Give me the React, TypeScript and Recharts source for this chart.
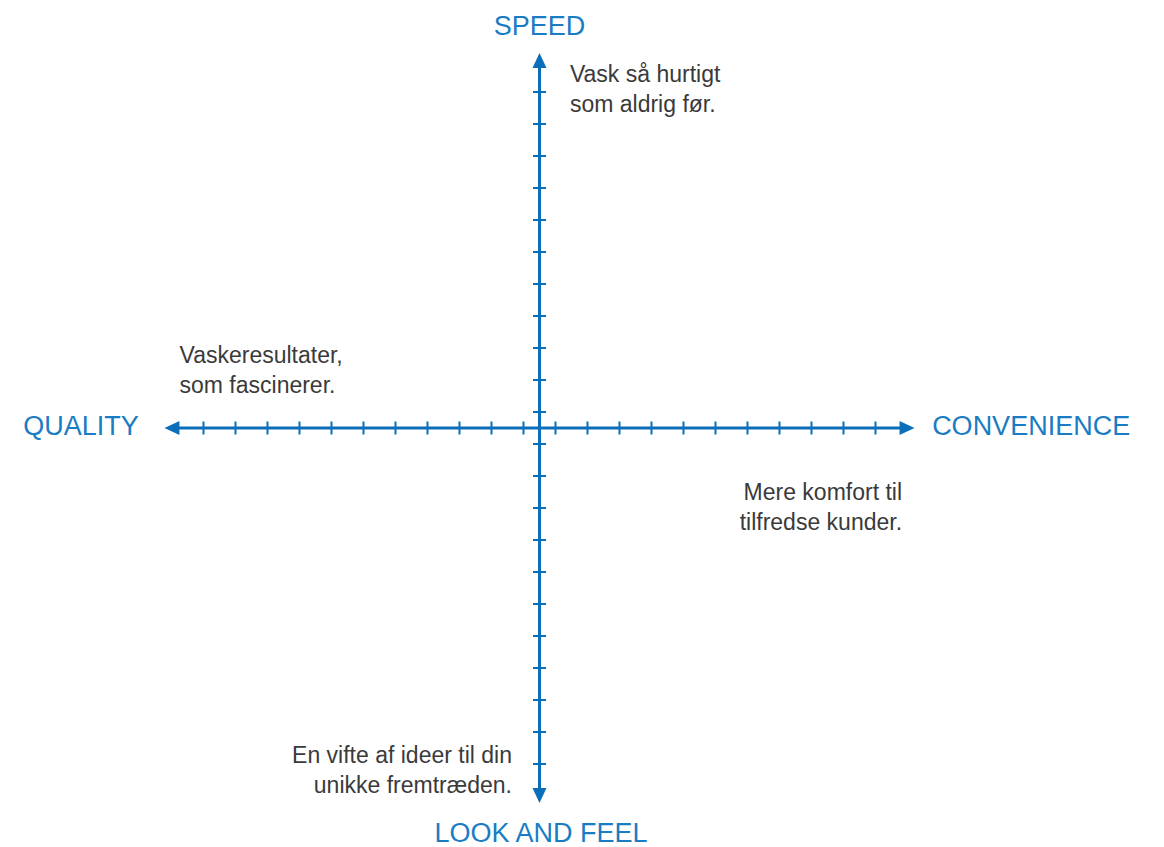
import React from 'react';
import { ComposedChart, Line, Scatter, XAxis, YAxis } from 'recharts';

// Quadrant axis names (top, left, right, bottom)
const AXIS_NAMES = ['SPEED', 'QUALITY', 'CONVENIENCE', 'LOOK AND FEEL'];

// Texts in each quadrant
const SPEED_NOTE = ['Vask så hurtigt', 'som aldrig før.'];
const QUALITY_NOTE = ['Vaskeresultater,', 'som fascinerer.'];
const CONVENIENCE_NOTE = ['Mere komfort til', 'tilfredse kunder.'];
const LOOK_NOTE = ['En vifte af ideer til din', 'unikke fremtræden.'];

// Tick marks on one half of an axis (mirrored on the other side)
const TICKS = [0.5, 1.5, 2.5, 3.5, 4.5, 5.5, 6.5, 7.5, 8.5, 9.5, 10.5];

// How far each axis reaches from the centre
const AXIS_END = 11.72;

const AXIS_COLOR = '#0a6eb8';
const LABEL_COLOR = '#1a7cc3';
const TEXT_COLOR = '#3a3a3a';
const FONT = '"Liberation Sans", Arial, sans-serif';

const W = 1164;
const H = 847;

const hLine = [
  { x: -AXIS_END + 0.3, y: 0 },
  { x: AXIS_END - 0.3, y: 0 },
];
const vLine = [
  { x: 0, y: -AXIS_END + 0.3 },
  { x: 0, y: AXIS_END - 0.3 },
];

const tickMarks = [
  ...TICKS.flatMap((t) => [
    { x: t, y: 0, dir: 'v' },
    { x: -t, y: 0, dir: 'v' },
  ]),
  ...TICKS.flatMap((t) => [
    { x: 0, y: t, dir: 'h' },
    { x: 0, y: -t, dir: 'h' },
  ]),
];

const arrows = [
  { x: AXIS_END, y: 0, dir: 'right' },
  { x: -AXIS_END, y: 0, dir: 'left' },
  { x: 0, y: AXIS_END, dir: 'up' },
  { x: 0, y: -AXIS_END, dir: 'down' },
];

const axisLabels = [
  { x: 0, y: 12.27, text: AXIS_NAMES[0], anchor: 'middle' },
  { x: -12.52, y: -0.22, text: AXIS_NAMES[1], anchor: 'end' },
  { x: 12.27, y: -0.22, text: AXIS_NAMES[2], anchor: 'start' },
  { x: 0.05, y: -12.93, text: AXIS_NAMES[3], anchor: 'middle' },
];

const notes = [
  { x: 0.95, y: 10.81, lines: SPEED_NOTE, anchor: 'start' },
  { x: -11.25, y: 2.03, lines: QUALITY_NOTE, anchor: 'start' },
  { x: 11.33, y: -2.25, lines: CONVENIENCE_NOTE, anchor: 'end' },
  { x: -0.86, y: -10.47, lines: LOOK_NOTE, anchor: 'end' },
];

const TickShape = (props: any) => {
  const { cx, cy, payload } = props;
  const len = 6.5;
  if (payload.dir === 'v') {
    return <line x1={cx} y1={cy - len} x2={cx} y2={cy + len} stroke={AXIS_COLOR} strokeWidth={2} />;
  }
  return <line x1={cx - len} y1={cy} x2={cx + len} y2={cy} stroke={AXIS_COLOR} strokeWidth={2} />;
};

const ArrowShape = (props: any) => {
  const { cx, cy, payload } = props;
  const l = 15;
  const w = 7;
  let pts = '';
  if (payload.dir === 'right') pts = `${cx},${cy} ${cx - l},${cy - w} ${cx - l},${cy + w}`;
  if (payload.dir === 'left') pts = `${cx},${cy} ${cx + l},${cy - w} ${cx + l},${cy + w}`;
  if (payload.dir === 'up') pts = `${cx},${cy} ${cx - w},${cy + l} ${cx + w},${cy + l}`;
  if (payload.dir === 'down') pts = `${cx},${cy} ${cx - w},${cy - l} ${cx + w},${cy - l}`;
  return <polygon points={pts} fill={AXIS_COLOR} />;
};

const AxisLabelShape = (props: any) => {
  const { cx, cy, payload } = props;
  return (
    <text x={cx} y={cy} textAnchor={payload.anchor} fill={LABEL_COLOR} fontSize={27} fontFamily={FONT}>
      {payload.text}
    </text>
  );
};

const NoteShape = (props: any) => {
  const { cx, cy, payload } = props;
  return (
    <text x={cx} y={cy} textAnchor={payload.anchor} fill={TEXT_COLOR} fontSize={23} fontFamily={FONT}>
      {payload.lines.map((line: string, i: number) => (
        <tspan key={i} x={cx} dy={i === 0 ? 0 : 29.5}>
          {line}
        </tspan>
      ))}
    </text>
  );
};

export default function App() {
  return (
    <div style={{ position: 'absolute', left: 0, top: 0, width: W, height: H, background: '#fff' }}>
      <ComposedChart width={W} height={H} margin={{ top: 0, right: 0, bottom: 0, left: 0 }}>
        <XAxis type="number" dataKey="x" domain={[-539.5 / 32, (W - 539.5) / 32]} hide />
        <YAxis type="number" dataKey="y" domain={[-(H - 428) / 32, 428 / 32]} hide />
        <Line data={hLine} dataKey="y" stroke={AXIS_COLOR} strokeWidth={3} dot={false} isAnimationActive={false} />
        <Line data={vLine} dataKey="y" stroke={AXIS_COLOR} strokeWidth={3} dot={false} isAnimationActive={false} />
        <Scatter data={tickMarks} dataKey="y" shape={TickShape} isAnimationActive={false} />
        <Scatter data={arrows} dataKey="y" shape={ArrowShape} isAnimationActive={false} />
        <Scatter data={axisLabels} dataKey="y" shape={AxisLabelShape} isAnimationActive={false} />
        <Scatter data={notes} dataKey="y" shape={NoteShape} isAnimationActive={false} />
      </ComposedChart>
    </div>
  );
}
